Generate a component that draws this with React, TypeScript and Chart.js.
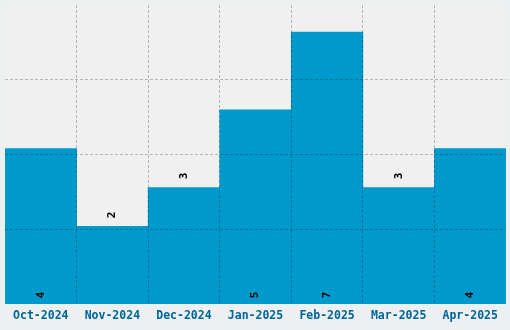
import React, { useEffect, useRef } from "react";
import { Chart, registerables } from "chart.js";

Chart.register(...registerables);

const categories = ["Oct-2024", "Nov-2024", "Dec-2024", "Jan-2025", "Feb-2025", "Mar-2025", "Apr-2025"];
const counts = [4, 2, 3, 5, 7, 3, 4];
const yMax = 7.7;
const yTickCount = 5;

const BAR = "#0099cc";
const PLOT_BG = "#f0f0f0";
const PAGE_BG = "#ecf0f1";
const GRID = "rgba(0,0,0,0.25)";
const LABEL = "#00649b";

const bgPlugin = {
  id: "bgPlugin",
  beforeDraw(chart: any) {
    const { ctx, chartArea, width, height } = chart;
    ctx.save();
    ctx.fillStyle = PAGE_BG;
    ctx.fillRect(0, 0, width, height);
    ctx.fillStyle = PLOT_BG;
    ctx.fillRect(chartArea.left, chartArea.top, chartArea.right - chartArea.left, chartArea.bottom - chartArea.top);
    ctx.restore();
  },
};

const valueLabels = {
  id: "valueLabels",
  afterDraw(chart: any) {
    const { ctx } = chart;
    const meta = chart.getDatasetMeta(0);
    ctx.save();
    ctx.fillStyle = "#000";
    ctx.font = "bold 11px 'DejaVu Sans Mono', monospace";
    ctx.textAlign = "center";
    ctx.textBaseline = "middle";
    meta.data.forEach((bar: any, i: number) => {
      const v = counts[i];
      const y = v > 3.5 ? bar.base - 9 : bar.y - 11.5;
      ctx.save();
      ctx.translate(bar.x, y);
      ctx.rotate(-Math.PI / 2);
      ctx.fillText(String(v), 0, 0);
      ctx.restore();
    });
    ctx.restore();
  },
};

const innerLine = (last: number) => (ctx: any) =>
  ctx.type !== "tick" || ctx.index === 0 || ctx.index >= last ? 0 : 1;

export default function App() {
  const ref = useRef<HTMLCanvasElement>(null);
  useEffect(() => {
    document.body.style.margin = "0";
    const chart = new Chart(ref.current!, {
      type: "bar",
      data: {
        labels: categories,
        datasets: [
          {
            data: counts,
            backgroundColor: BAR,
            borderWidth: 0,
            barPercentage: 1,
            categoryPercentage: 1,
          },
        ],
      },
      options: {
        animation: false,
        responsive: false,
        layout: { padding: { left: 5, top: 5, right: 4, bottom: 0 } },
        plugins: { legend: { display: false }, tooltip: { enabled: false } },
        scales: {
          x: {
            grid: {
              z: 1,
              offset: true,
              drawTicks: false,
              color: GRID,
              lineWidth: innerLine(categories.length),
            },
            border: { display: false, dash: [3, 2] },
            ticks: {
              color: LABEL,
              padding: 5,
              font: { family: "'DejaVu Sans Mono', monospace", weight: "bold", size: 11.5 },
            },
            afterFit(scale: any) {
              scale.height = 26;
            },
          },
          y: {
            min: 0,
            max: yMax,
            grid: {
              z: 1,
              drawTicks: false,
              color: GRID,
              lineWidth: innerLine(yTickCount - 1),
            },
            border: { display: false, dash: [3, 2] },
            ticks: { display: false },
            afterBuildTicks(scale: any) {
              const t = [];
              for (let i = 0; i < yTickCount; i++) t.push({ value: (yMax * i) / (yTickCount - 1) });
              scale.ticks = t;
            },
            afterFit(scale: any) {
              scale.width = 0;
            },
          },
        },
      },
      plugins: [bgPlugin, valueLabels],
    });
    return () => chart.destroy();
  }, []);
  return <canvas ref={ref} width={510} height={330} style={{ display: "block" }} />;
}
